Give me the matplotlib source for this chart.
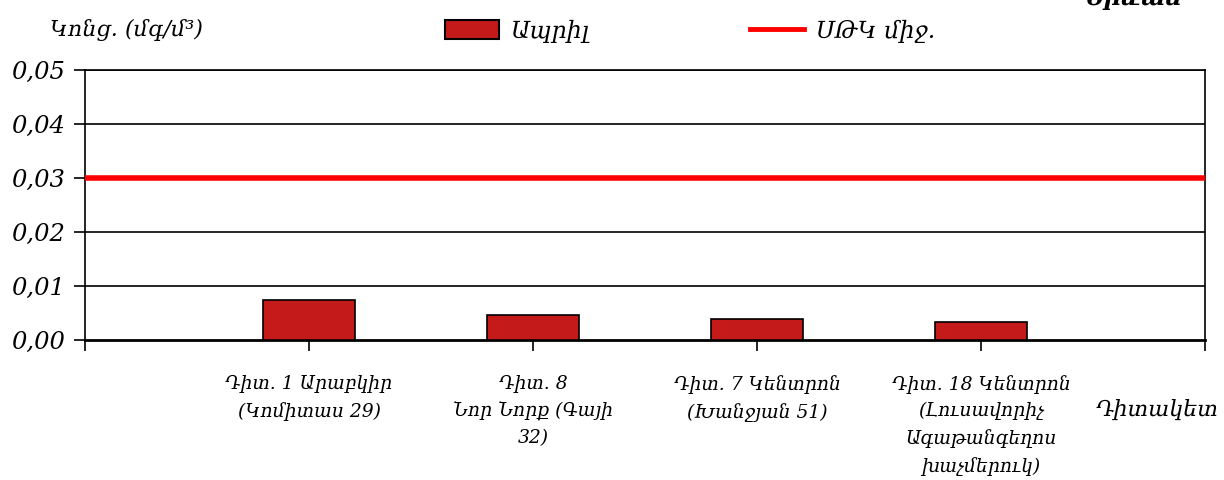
import matplotlib
matplotlib.use("Agg")
import matplotlib.pyplot as plt
from matplotlib.patches import Patch
from matplotlib.lines import Line2D

plt.rcParams['font.family'] = ['DejaVu Serif', 'DejaVu Sans']

categories = [
    "Դիտ. 1 Արաբկիր\n(Կոմիտաս 29)",
    "Դիտ. 8\nՆոր Նորք (Գայի\n32)",
    "Դիտ. 7 Կենտրոն\n(Խանջյան 51)",
    "Դիտ. 18 Կենտրոն\n(Լուսավորիչ\nԱգաթանգեղոս\nխաչմերուկ)",
]
values = [0.0075, 0.0046, 0.0038, 0.0034]
limit_value = 0.03
yticks = [0.00, 0.01, 0.02, 0.03, 0.04, 0.05]
ytick_labels = ["0,00", "0,01", "0,02", "0,03", "0,04", "0,05"]
series_name = "Ապրիլ"
limit_name = "ՍԹԿ միջ."
ylabel = "Կոնց. (մգ/մ³)"
xlabel = "Դիտակետ"
title = "Երևան"

fig = plt.figure(figsize=(12.24, 4.8), dpi=100)
ax = fig.add_axes([85/1224, 1-340/480, 1120/1224, 270/480])

x = list(range(len(categories)))
ax.bar(x, values, width=0.41, color="#C41A1A", edgecolor="black", linewidth=1.2, zorder=3)
ax.axhline(limit_value, color="#FF0000", linewidth=4, zorder=4)

ax.set_xlim(-1, len(categories))
ax.set_ylim(0, 0.05)
ax.set_yticks(yticks)
ax.set_yticklabels(ytick_labels, fontsize=17.5, style='italic')
ax.set_xticks(list(range(-1, len(categories) + 1)))
ax.set_xticklabels([""] + categories + [""], fontsize=13.5, style='italic', linespacing=1.6)
ax.tick_params(axis='x', length=8, width=1.2, direction='out', pad=17)
ax.tick_params(axis='y', length=8, width=1.2, direction='out', pad=6)
for yv in yticks[1:]:
    ax.axhline(yv, color="black", linewidth=1.2, zorder=1)
for s in ax.spines.values():
    s.set_linewidth(1.2)
ax.spines['bottom'].set_linewidth(2)

fig.text(50/1224, 1-30/480, ylabel, fontsize=16, style='italic', va='center', ha='left')
fig.text(1096/1224, 1-410/480, xlabel, fontsize=16, style='italic', va='center', ha='left')
fig.text(1134/1224, 1-5/480, title, fontsize=17, style='italic', weight='bold', va='baseline', ha='center')

handles = [Patch(facecolor="#C41A1A", edgecolor="black", linewidth=1.5),
           Line2D([0], [0], color="#FF0000", linewidth=3.5)]
fig.legend(handles, [series_name, limit_name], loc='center', bbox_to_anchor=(690/1224, 1-31/480),
           ncol=2, frameon=False, prop={'style': 'italic', 'size': 17},
           handlelength=2.3, handleheight=0.9, columnspacing=6.8, handletextpad=0.5)

fig.savefig("out.png", dpi=100)
